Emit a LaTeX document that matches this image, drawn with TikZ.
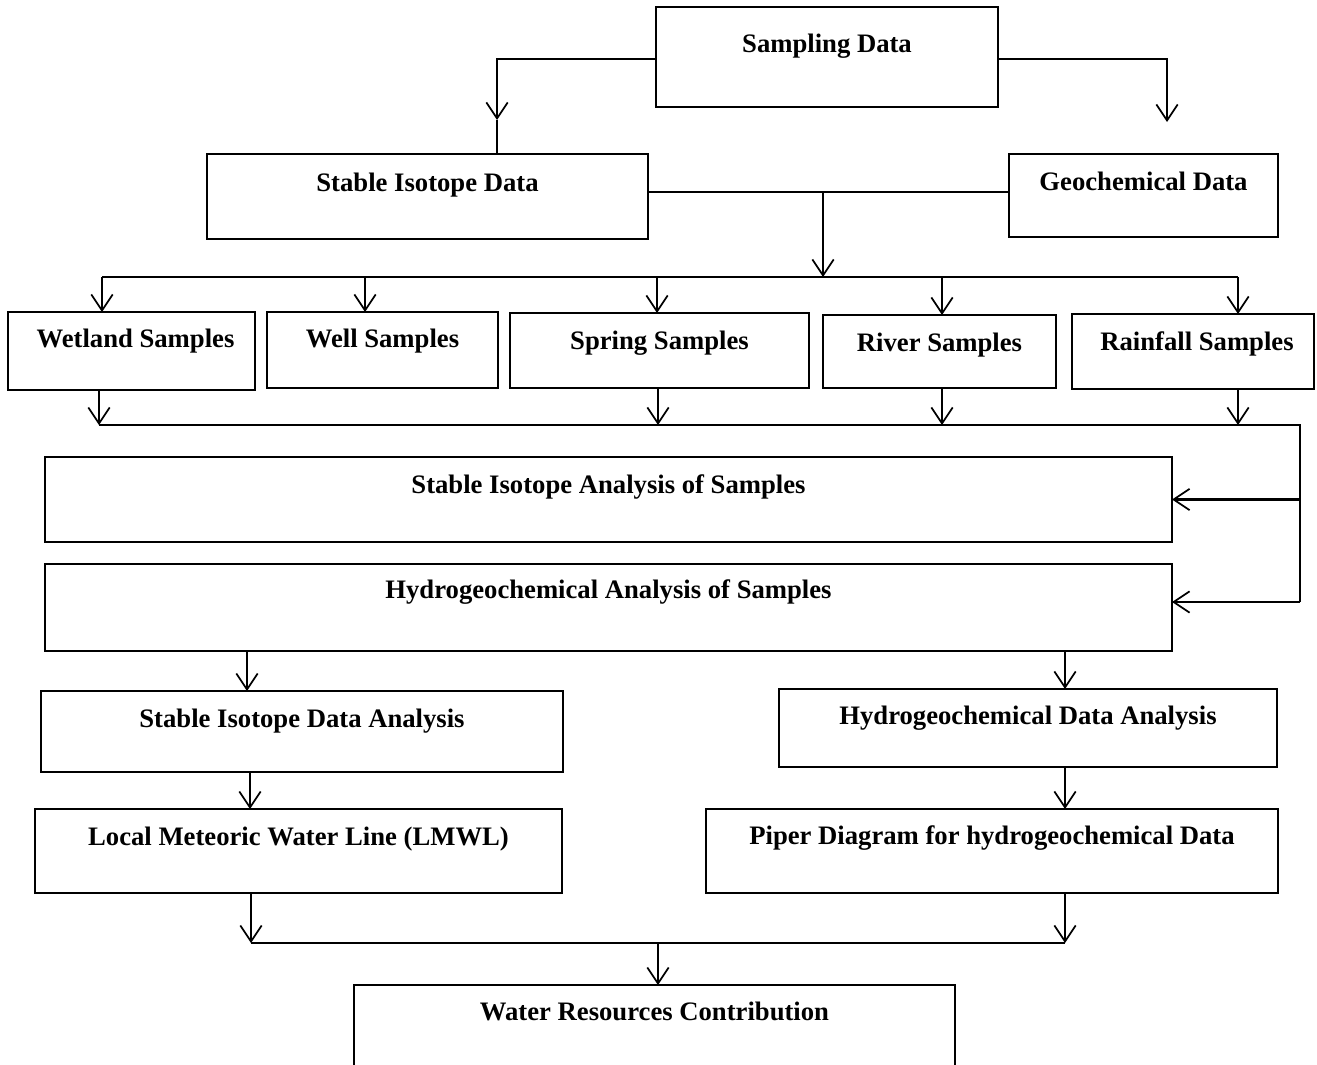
\documentclass[tikz,border=0pt]{standalone}
\usepackage{fontspec}
\setmainfont{Liberation Serif}
\usetikzlibrary{arrows.meta}
\tikzset{
  box/.style={draw, line width=1.9pt, inner sep=0pt, outer sep=0pt, anchor=north west,
    font=\bfseries\fontsize{20}{24}\selectfont},
  conn/.style={line width=1.6pt},
  arr/.style={-{Straight Barb[length=12pt,width=16pt,line width=1.3pt]}}
}
% name, x1, y1, x2, y2, baseline y, text
\newcommand\mybx[7]{%
  \node[box, minimum width={(#4-#2)*0.75pt}, text height={(#6-#3)*0.75pt},
        text depth={(#5-#6)*0.75pt}] (#1) at (#2,#3) {#7};}
\begin{document}
\begin{tikzpicture}[x=0.75pt,y=-0.75pt]
\fill[white] (0,0) rectangle (1317,1064);
\clip (0,0) rectangle (1317,1064);
\mybx{samp}{656}{7}{998}{107}{52}{Sampling Data}
\mybx{sid}{207}{154}{648}{239}{191}{Stable Isotope Data}
\mybx{geo}{1009}{154}{1278}{237}{190}{Geochemical Data}
\mybx{wet}{8}{312}{255}{390}{347}{\hspace*{6pt}Wetland Samples}
\mybx{well}{267}{312}{498}{388}{347}{Well Samples}
\mybx{spr}{510}{313}{809}{388}{349}{Spring Samples}
\mybx{riv}{823}{315}{1056}{388}{351}{River Samples}
\mybx{rain}{1072}{314}{1314}{389}{350}{\hspace*{6pt}Rainfall Samples}
\mybx{sia}{45}{457}{1172}{542}{493}{Stable Isotope Analysis of Samples}
\mybx{ha}{45}{564}{1172}{651}{598}{Hydrogeochemical Analysis of Samples}
\mybx{sida}{41}{691}{563}{772}{727}{Stable Isotope Data Analysis}
\mybx{hda}{779}{689}{1277}{767}{724}{Hydrogeochemical Data Analysis}
\mybx{lmwl}{35}{809}{562}{893}{845}{Local Meteoric Water Line (LMWL)}
\mybx{piper}{706}{809}{1278}{893}{844}{Piper Diagram for hydrogeochemical Data}
\mybx{wrc}{354}{985}{955}{1080}{1020}{Water Resources Contribution}

% top level
\coordinate (c1) at (497,120);
\coordinate (c2) at (1167,122);
\draw[conn,arr] ([yshift=-1.5pt]samp.west) -| (c1);
\draw[conn] (c1) -- (c1 |- sid.north);
\draw[conn,arr] ([yshift=-1.5pt]samp.east) -| (c2);

% isotope + geochemical join
\coordinate (x823) at (823,0);
\coordinate (sidE) at ([yshift=3.3pt]sid.east);
\draw[conn] (sidE) -- (sidE -| geo.west);
\coordinate (j1) at (sidE -| x823);
\coordinate (b1) at (823,277);
\draw[conn,arr] (j1) -- (b1);

% bus 1 to samples
\coordinate (b1L) at (102,277);
\coordinate (b1w) at (365,277);
\coordinate (b1s) at (657,277);
\coordinate (b1r) at (942,277);
\coordinate (b1R) at (1238,277);
\draw[conn] (b1L) -- (b1R);
\draw[conn,arr] (b1L) -- (b1L |- wet.north);
\draw[conn,arr] (b1w) -- (b1w |- well.north);
\draw[conn,arr] (b1s) -- (b1s |- spr.north);
\draw[conn,arr] (b1r) -- (b1r |- riv.north);
\draw[conn,arr] (b1R) -- (b1R |- rain.north);

% samples to bus 2
\coordinate (b2L) at (99,425);
\coordinate (b2s) at (658,425);
\coordinate (b2r) at (942,425);
\coordinate (b2f) at (1238,425);
\coordinate (b2R) at (1300,425);
\coordinate (b2B) at (1300,602);
\draw[conn,arr] (wet.south -| b2L) -- (b2L);
\draw[conn,arr] (spr.south -| b2s) -- (b2s);
\draw[conn,arr] (riv.south -| b2r) -- (b2r);
\draw[conn,arr] (rain.south -| b2f) -- (b2f);
\draw[conn] (b2L) -- (b2R) -- (b2B);
\draw[conn,arr] (sia.east -| b2R) -- (sia.east);
\draw[conn,arr] (b2B) -- (b2B -| ha.east);

% analysis branches
\coordinate (x247) at (247,0);
\coordinate (x250) at (250,0);
\coordinate (x1065) at (1065,0);
\draw[conn,arr] (ha.south -| x247) -- (sida.north -| x247);
\draw[conn,arr] (ha.south -| x1065) -- (hda.north -| x1065);
\draw[conn,arr] (sida.south -| x250) -- (lmwl.north -| x250);
\draw[conn,arr] (hda.south -| x1065) -- (piper.north -| x1065);

% bus 3
\coordinate (b3L) at (251,943);
\coordinate (b3R) at (1065,943);
\coordinate (b3m) at (658,943);
\draw[conn,arr] (lmwl.south -| b3L) -- (b3L);
\draw[conn,arr] (piper.south -| b3R) -- (b3R);
\draw[conn] (b3L) -- (b3R);
\draw[conn,arr] (b3m) -- (b3m |- wrc.north);
\end{tikzpicture}
\end{document}
